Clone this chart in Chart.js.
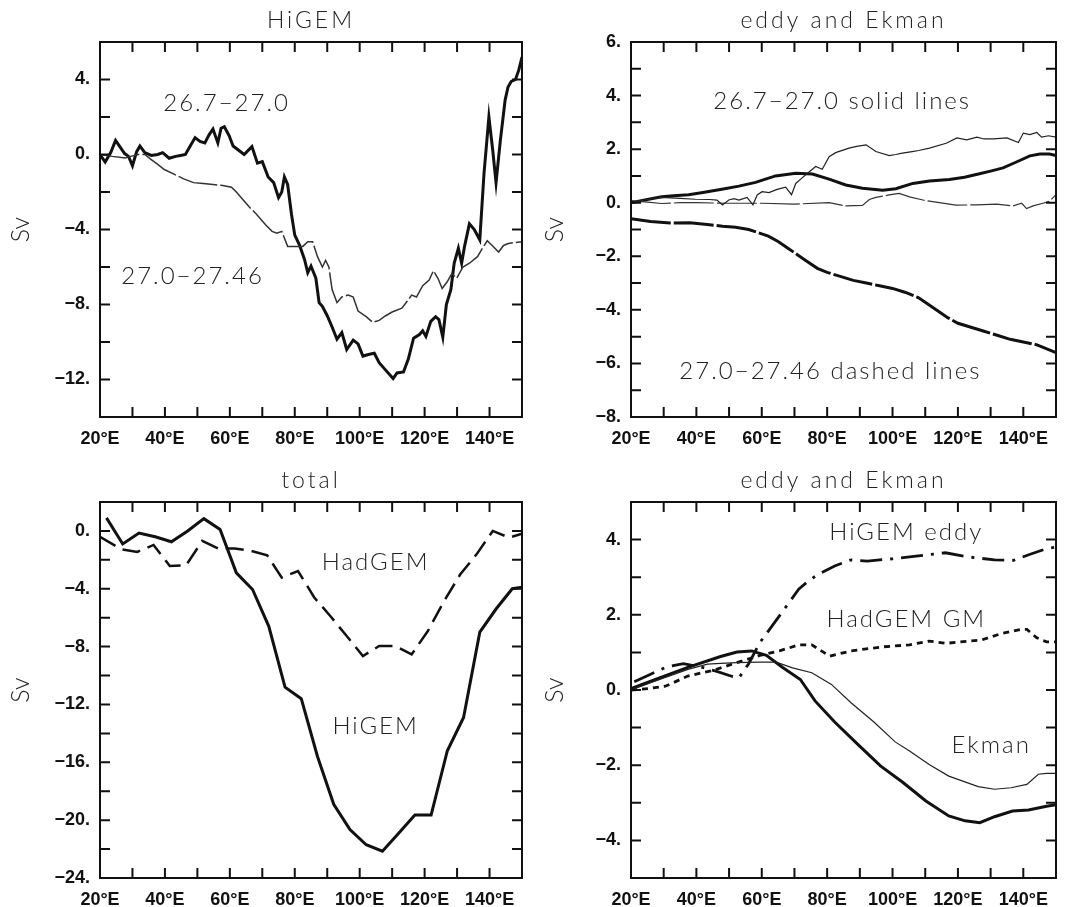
<!DOCTYPE html>
<html>
<head>
<meta charset="utf-8">
<script src="https://cdn.jsdelivr.net/npm/chart.js@4.4.1/dist/chart.umd.min.js"></script>
<style>
  body { margin: 0; background: #fff; }
  #wrap { position: relative; width: 1068px; height: 907px; }
  canvas { position: absolute; }
</style>
</head>
<body>
<div id="wrap">
  <canvas id="c1" width="534" height="450" style="left:0;top:0"></canvas>
  <canvas id="c2" width="534" height="450" style="left:534px;top:0"></canvas>
  <canvas id="c3" width="534" height="457" style="left:0;top:450px"></canvas>
  <canvas id="c4" width="534" height="457" style="left:534px;top:450px"></canvas>
</div>
<script>
'use strict'

/////////////////////////////////////////////////////////////////
// HiGEM panel (top left)
var hiLonA = [20, 21.6, 23.3, 24.8, 26, 27.6, 28.8, 30, 31.3, 32.3, 33.8, 35.8, 37.8, 39.3, 41.3, 43.3, 44.8, 46.3, 47.8, 49.3,
  50.8, 52.3, 53.6, 54.8, 56.3, 57.3, 58.3, 59.8, 61, 62.5, 64.4, 66.8, 68.5, 70, 71.8, 73.5, 75, 76, 76.8, 77.8,
  79, 80, 81.5, 83, 84, 85, 86.5, 87.5, 88.5, 90, 91.5, 93, 94.5, 96, 98, 99.5, 101, 103, 104.5, 106,
  108, 110.3, 111.5, 113.5, 115, 116.6, 118.4, 119.4, 120.4, 121.9, 123.4, 124.4, 125.6, 126.7, 128.1, 129.1, 130.4, 131.4, 132.3, 133.8,
  135.3, 137, 138.3, 139.8, 141, 142, 143.3, 144.8, 145.7, 146.7, 148, 149, 150];
var hiUpper = [0, -0.4, 0.1, 0.75, 0.45, 0.05, -0.1, -0.6, 0.15, 0.45, 0.1, -0.05, 0, 0.1, -0.2, -0.1, -0.05, 0, 0.45, 0.9,
  0.7, 0.62, 1.05, 1.36, 0.62, 1.4, 1.48, 1.0, 0.45, 0.25, 0, 0.42, -0.46, -0.38, -1.2, -1.5, -2.3, -2.0, -1.2, -1.6,
  -3.2, -4.3, -4.85, -5.6, -6.3, -5.95, -6.6, -7.9, -8.1, -8.6, -9.2, -9.85, -9.5, -10.4, -9.9, -10.1, -10.75, -10.65, -10.6, -11.1,
  -11.5, -11.95, -11.65, -11.6, -10.9, -9.8, -9.6, -9.4, -9.7, -8.9, -8.65, -8.8, -9.75, -8.0, -7.2, -5.8, -5.0, -5.8, -4.9, -3.7,
  -4.0, -4.55, -1.0, 2.0, 0.2, -1.5, 0.7, 2.9, 3.6, 3.9, 4.0, 4.5, 5.2];

var hiLonB = [20, 23.8, 27.8, 29.5, 31.8, 33.8, 35.8, 37.8, 39.8, 42.8, 45.8, 48.8, 51.8, 54.8, 57.8, 60.5, 62, 64, 66, 68,
  71, 73, 74.5, 76, 77.8, 80, 82.5, 84, 85.5, 87, 88.5, 89.5, 90.5, 91.5, 93, 94.5, 96.5, 98, 99.5, 102,
  104, 106, 108, 110, 113, 114.5, 116, 117.5, 119.4, 121.4, 122.7, 124.1, 125.4, 126.9, 128.4, 129.9, 131.8, 133.8, 136.3, 137.8,
  139.3, 140.8, 142.8, 144.3, 145.8, 147.5, 150];
var hiLower = [0, -0.1, -0.18, -0.1, 0, 0, -0.27, -0.53, -0.8, -1.05, -1.3, -1.5, -1.55, -1.6, -1.65, -1.75, -2.0, -2.4, -2.8, -3.15,
  -3.75, -4.1, -4.2, -4.1, -4.9, -4.9, -4.9, -4.65, -4.65, -5.45, -6.0, -5.65, -6.0, -7.2, -7.9, -7.6, -7.5, -7.6, -8.35, -8.65,
  -8.95, -8.85, -8.6, -8.4, -8.2, -7.85, -7.5, -7.6, -7.0, -6.7, -6.2, -6.6, -7.15, -6.8, -6.35, -6.6, -6.0, -5.8, -5.45, -5.0,
  -4.6, -4.85, -5.2, -4.85, -4.75, -4.7, -4.65];

/////////////////////////////////////////////////////////////////
// eddy and Ekman (top right)
var edLonA = [20, 25, 29.4, 33, 37.6, 42, 47.8, 53, 58.1, 64.2, 70.4, 75.5, 80.6, 85.7, 90.8, 97, 101, 106.2, 111.3, 117.4,
  122, 126.6, 130, 133.8, 137.9, 142, 145.1, 148, 150];
var edThick = [0, 0.12, 0.22, 0.26, 0.3, 0.38, 0.5, 0.62, 0.76, 1.0, 1.1, 1.07, 0.88, 0.66, 0.54, 0.47, 0.52, 0.72, 0.81, 0.87,
  0.95, 1.08, 1.18, 1.3, 1.52, 1.75, 1.82, 1.82, 1.76];

var edLonB = [20, 25, 29.4, 35, 39.7, 44, 46.3, 48, 49.9, 51.5, 53, 55.5, 57.3, 58.6, 60.1, 62.2, 64.7, 67.3, 69.1, 70.4,
  71.9, 74, 76.5, 78.5, 80.6, 82.6, 86.7, 89, 91.9, 94.9, 99, 101, 103, 106, 108, 111.3, 116.4, 119.7, 122.7, 125.8,
  128, 130.9, 135, 138.5, 140, 142, 144.1, 145.6, 147.7, 150];
var edThin = [0, 0.12, 0.2, 0.16, 0.13, 0.12, 0.1, -0.08, 0.1, 0.15, 0.1, 0.2, -0.08, 0.29, 0.41, 0.38, 0.5, 0.58, 0.3, 0.72,
  0.88, 1.1, 1.35, 1.25, 1.72, 1.87, 2.04, 2.1, 2.16, 1.91, 1.76, 1.8, 1.85, 1.91, 1.95, 2.04, 2.22, 2.42, 2.35, 2.45,
  2.38, 2.38, 2.42, 2.25, 2.6, 2.54, 2.62, 2.45, 2.5, 2.45];

var edLonC = [20, 25, 29.4, 35, 40, 50, 60, 70, 80.6, 85.7, 90.8, 92.9, 94.9, 99, 102, 105.2, 109.3, 114.3, 119.4, 125.6,
  131.8, 136.9, 139.5, 141, 143, 146, 148, 150];
var edNear0 = [0.08, 0.02, -0.03, 0, 0, -0.02, -0.02, -0.05, 0, -0.12, -0.1, 0.12, 0.2, 0.29, 0.35, 0.22, 0.1, 0, -0.09, -0.08,
  -0.05, -0.12, -0.02, -0.22, -0.12, -0.02, 0.05, 0.3];

var edLonD = [20, 26, 32, 38, 44, 48, 52, 56, 59, 62, 65, 68, 71, 74, 77, 80, 84, 88, 92, 96,
  100, 104, 108, 111, 114, 117, 120, 124, 128, 132, 136, 140, 144, 147, 150];
var edLow = [-0.6, -0.7, -0.76, -0.75, -0.82, -0.88, -0.92, -1.0, -1.12, -1.25, -1.45, -1.7, -1.95, -2.2, -2.45, -2.6, -2.75, -2.9, -3.0, -3.1,
  -3.2, -3.35, -3.55, -3.8, -4.05, -4.3, -4.5, -4.65, -4.8, -4.95, -5.1, -5.2, -5.3, -5.45, -5.6];

/////////////////////////////////////////////////////////////////
// total (bottom left)
var totLonHi = [22, 27, 32, 37, 42, 47, 52, 57, 62, 67, 72, 77, 82, 87, 92, 97, 102, 107, 112, 117, 122, 127, 132, 137, 142, 147, 150];
var totHiGEM = [0.9, -0.9, -0.15, -0.4, -0.75, 0, 0.85, 0.1, -2.9, -4.05, -6.6, -10.8, -11.6, -15.6, -18.9, -20.65, -21.7, -22.15, -20.9, -19.65,
  -19.65, -15.2, -12.9, -7.0, -5.4, -4.0, -3.9];
var totLonHad = [20, 26.5, 31.5, 36.5, 41.5, 46.5, 51.5, 56.5, 61.5, 66.5, 71.5, 76, 81, 86, 91, 96, 101, 106, 111, 116, 121, 126, 131, 136, 141, 146, 150];
var totHadGEM = [-0.4, -1.27, -1.45, -0.97, -2.42, -2.38, -0.69, -1.22, -1.22, -1.38, -1.68, -3.23, -2.77, -4.6, -5.9, -7.27, -8.65, -7.96, -7.96, -8.54,
  -6.92, -4.85, -3.0, -1.62, 0, -0.46, -0.2];

/////////////////////////////////////////////////////////////////
// eddy and Ekman (bottom right)
var hiEddyLon = [21, 26, 31, 36, 41, 46, 51, 53, 56, 59.4, 65.4, 71.3, 74, 77.3, 82.3, 87.3, 92.3, 100, 107.2, 116.2, 122.2, 131.2, 137.1, 142.1, 147.1, 150];
var hiEddy = [0.22, 0.42, 0.62, 0.7, 0.62, 0.5, 0.36, 0.32, 0.7, 1.26, 1.97, 2.68, 2.88, 3.08, 3.3, 3.46, 3.43, 3.49, 3.56, 3.65, 3.55, 3.46, 3.45, 3.61, 3.76, 3.8];
var gmLon = [20, 25.5, 30.5, 37.4, 45.4, 52.4, 59.4, 65.4, 71.3, 75.3, 80.8, 87.3, 97.3, 105.2, 111.2, 116.2, 127.2, 133.2, 139.1, 141.1, 144.1, 147.1, 150];
var hadGM = [0, 0.04, 0.1, 0.37, 0.53, 0.73, 0.92, 1.04, 1.2, 1.2, 0.9, 1.04, 1.15, 1.2, 1.3, 1.24, 1.33, 1.5, 1.61, 1.61, 1.39, 1.28, 1.28];
var ekHiLon = [20, 27.5, 37.4, 47.4, 52.4, 56.9, 61.4, 66.4, 71.8, 76.3, 82.3, 89.3, 96.3, 103.2, 110.2, 117.2, 122.2, 126.7, 131.2, 136.7, 141.6, 147.1, 150];
var ekHi = [0.04, 0.28, 0.6, 0.89, 1.01, 1.04, 0.92, 0.6, 0.28, -0.29, -0.85, -1.44, -2.02, -2.46, -2.95, -3.35, -3.48, -3.53, -3.37, -3.22, -3.19, -3.09, -3.05];
var ekHadLon = [20, 27.5, 37.4, 43.4, 47.4, 52.4, 59.4, 64.4, 69.4, 75.3, 81.3, 87.3, 94.3, 100.8, 105.2, 111.2, 117.2, 126.2, 131.2, 136.2, 141.1, 144.6, 147.1, 150];
var ekHad = [0, 0.24, 0.55, 0.69, 0.71, 0.73, 0.74, 0.74, 0.59, 0.46, 0.15, -0.34, -0.85, -1.38, -1.62, -1.98, -2.29, -2.57, -2.64, -2.6, -2.51, -2.24, -2.22, -2.22];

/////////////////////////////////////////////////////////////////

function pts(lon, vals) {
  var out = [];
  for (var i = 0; i < lon.length; i++) {
    out.push({x: lon[i], y: vals[i]});
  }
  return out;
}

function line(lon, vals, width, color, dash) {
  return {
    data: pts(lon, vals),
    borderColor: color,
    borderWidth: width,
    borderDash: dash || [],
    pointRadius: 0,
    tension: 0,
    fill: false
  };
}

function fmtY(v) {
  return (v < 0 ? '\u2212' + Math.abs(v) : String(v)) + '.';
}

// frame, inward ticks, panel title and the text notes
var deco = {
  id: 'deco',
  afterDatasetsDraw: function (chart, args, opts) {
    var ctx = chart.ctx;
    var a = chart.chartArea;
    var xs = chart.scales.x;
    var ys = chart.scales.y;
    ctx.save();
    ctx.strokeStyle = '#111';
    ctx.lineWidth = 2;
    ctx.strokeRect(a.left, a.top, a.right - a.left, a.bottom - a.top);
    ctx.beginPath();
    xs.ticks.forEach(function (t) {
      var p = xs.getPixelForValue(t.value);
      ctx.moveTo(p, a.bottom); ctx.lineTo(p, a.bottom - 10);
      ctx.moveTo(p, a.top); ctx.lineTo(p, a.top + 10);
    });
    ys.ticks.forEach(function (t) {
      var p = ys.getPixelForValue(t.value);
      ctx.moveTo(a.left, p); ctx.lineTo(a.left + 10, p);
      ctx.moveTo(a.right, p); ctx.lineTo(a.right - 10, p);
    });
    ctx.stroke();

    ctx.fillStyle = '#222';
    ctx.textAlign = 'center';
    ctx.textBaseline = 'middle';
    ctx.letterSpacing = '3px';
    ctx.font = '300 23px Lato';
    ctx.fillText(opts.title, (a.left + a.right) / 2, a.top - 21);

    ctx.letterSpacing = '2px';
    ctx.font = '300 24px Lato';
    (opts.notes || []).forEach(function (n) {
      ctx.fillText(n.text, xs.getPixelForValue(n.x), ys.getPixelForValue(n.y));
    });
    ctx.restore();
  }
};

function makePanel(id, box, yMin, yMax, yStep, yLabelStep, datasets, title, notes) {
  var ctx = document.getElementById(id).getContext('2d');
  return new Chart(ctx, {
    type: 'line',
    data: {datasets: datasets},
    options: {
      responsive: false,
      animation: false,
      layout: {padding: {top: box.top, right: box.right, left: 0, bottom: 0}},
      plugins: {
        legend: {display: false},
        tooltip: {enabled: false},
        deco: {title: title, notes: notes}
      },
      scales: {
        x: {
          type: 'linear', min: 20, max: 150,
          afterFit: function (s) { s.height = box.xh; },
          grid: {display: false, drawTicks: false},
          border: {display: false},
          ticks: {
            stepSize: 10, autoSkip: false, maxRotation: 0, padding: 11, color: '#111',
            font: {family: 'Liberation Sans', size: 18, weight: 'bold'},
            callback: function (v) { return (v % 20 === 0 && v < 150) ? v + '\u00b0E' : ''; }
          }
        },
        y: {
          type: 'linear', min: yMin, max: yMax,
          afterFit: function (s) { s.width = box.left; },
          grid: {display: false, drawTicks: false},
          border: {display: false},
          title: {display: true, text: 'Sv', color: '#222', padding: {top: 6, bottom: 0},
            font: {family: 'Lato', size: 25, weight: '300'}},
          ticks: {
            stepSize: yStep, autoSkip: false, padding: 10, color: '#111',
            font: {family: 'Liberation Sans', size: 18, weight: 'bold'},
            callback: function (v) { return (Math.abs(v) % yLabelStep === 0) ? fmtY(v) : ''; }
          }
        }
      }
    },
    plugins: [deco]
  });
}

var topBox = {top: 42, right: 12, left: 100, xh: 33};
var topBoxR = {top: 42, right: 12, left: 97, xh: 33};
var botBox = {top: 52, right: 12, left: 100, xh: 29};
var botBoxR = {top: 52, right: 12, left: 97, xh: 29};

makePanel('c1', topBox, -14, 6, 2, 4, [
  line(hiLonB, hiLower, 1.5, '#333', [40, 3]),
  line(hiLonA, hiUpper, 3, '#111')
], 'HiGEM', [
  {text: '26.7\u221227.0', x: 59, y: 2.75},
  {text: '27.0\u221227.46', x: 48.5, y: -6.5}
]);

makePanel('c2', topBoxR, -8, 6, 1, 2, [
  line(edLonB, edThin, 1.2, '#222'),
  line(edLonC, edNear0, 1.2, '#333', [40, 3]),
  line(edLonD, edLow, 3, '#111', [40, 3]),
  line(edLonA, edThick, 3, '#111')
], 'eddy and Ekman', [
  {text: '26.7\u221227.0 solid lines', x: 84.6, y: 3.77},
  {text: '27.0\u221227.46 dashed lines', x: 81, y: -6.3}
]);

makePanel('c3', botBox, -24, 2, 2, 4, [
  line(totLonHad, totHadGEM, 2.5, '#111', [18, 8]),
  line(totLonHi, totHiGEM, 3, '#111')
], 'total', [
  {text: 'HadGEM', x: 104.9, y: -2.15},
  {text: 'HiGEM', x: 104.9, y: -13.5}
]);

makePanel('c4', botBoxR, -5, 5, 1, 2, [
  line(ekHadLon, ekHad, 1.2, '#222'),
  line(gmLon, hadGM, 2.8, '#111', [6, 5]),
  line(hiEddyLon, hiEddy, 2.8, '#111', [22, 8, 3, 8]),
  line(ekHiLon, ekHi, 3, '#111')
], 'eddy and Ekman', [
  {text: 'HiGEM eddy', x: 104.2, y: 4.19},
  {text: 'HadGEM GM', x: 104.2, y: 1.87},
  {text: 'Ekman', x: 130.2, y: -1.47}
]);
</script>
</body>
</html>
